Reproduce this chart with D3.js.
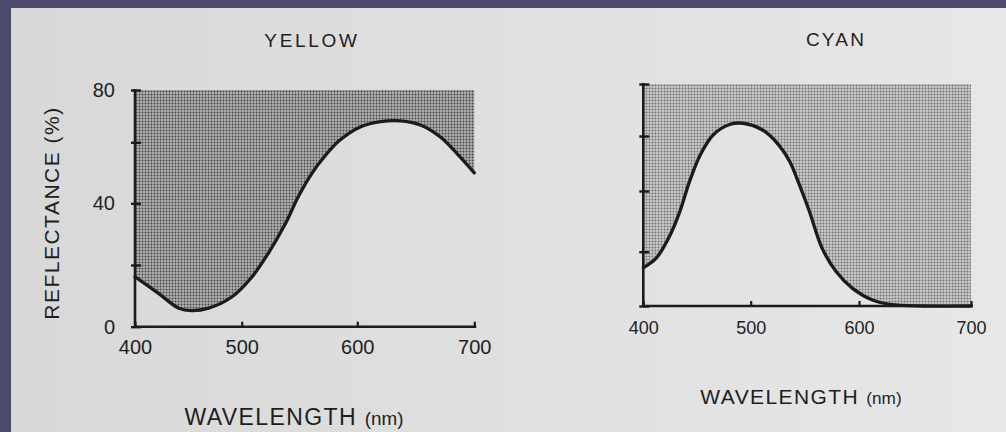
<!DOCTYPE html>
<html><head><meta charset="utf-8">
<script src="https://cdn.jsdelivr.net/npm/d3@7/dist/d3.min.js"></script>
<style>html,body{margin:0;padding:0;background:#4b4a6c;overflow:hidden;}svg{display:block;}</style>
</head><body>
<script>
// ---- data ----
const xTicks = [400, 500, 600, 700];
const yTicks = [0, 20, 40, 60, 80];
const yLabelled = [0, 40, 80];

const yellowWl  = [400, 422, 441, 453, 469, 491, 509, 523, 538, 549, 561, 572, 584, 602, 620, 637, 654, 671, 685, 700];
const yellowRef = [16.2, 10.8, 6.0, 5.2, 6.0, 9.7, 16.2, 23.8, 33.5, 42.2, 50.0, 55.5, 60.5, 65.8, 67.9, 68.2, 66.6, 62.0, 56.4, 50.0];

const cyanWl  = [400, 412, 425, 434, 443, 453, 465, 481, 493, 511, 526, 536, 545, 554, 566, 579, 594, 612, 628, 657, 700];
const cyanRef = [14.1, 17.6, 25.5, 33.2, 43.4, 53.1, 60.4, 64.5, 64.9, 62.3, 56.7, 50.7, 42.2, 33.5, 21.1, 12.6, 6.5, 2.2, 0.6, 0.0, 0.0];

const W = 1006, H = 432;
const svg = d3.select("body").append("svg").attr("width", W).attr("height", H);
const defs = svg.append("defs");

const grad = defs.append("linearGradient").attr("id", "paper").attr("x1", 0).attr("x2", 1).attr("y1", 0).attr("y2", 0);
grad.append("stop").attr("offset", 0).attr("stop-color", "#d8d8d8");
grad.append("stop").attr("offset", 1).attr("stop-color", "#e7e7e7");

function makePattern(id, bg, dot) {
  const p = defs.append("pattern").attr("id", id).attr("patternUnits", "userSpaceOnUse")
    .attr("width", 3).attr("height", 3);
  p.append("rect").attr("width", 3).attr("height", 3).attr("fill", bg);
  p.append("circle").attr("cx", 1.5).attr("cy", 1.5).attr("r", 0.95).attr("fill", dot);
}
makePattern("stipL", "#afafaf", "#454545");
makePattern("stipR", "#c9c9c9", "#707070");

// background: border + paper
svg.append("rect").attr("width", W).attr("height", H).attr("fill", "#4b4a6c");
svg.append("rect").attr("x", 11).attr("y", 8).attr("width", W - 11).attr("height", H - 8).attr("fill", "url(#paper)");

const FONT = "'Liberation Sans', Arial, Helvetica, sans-serif";
const CURVE = d3.curveCatmullRom.alpha(0.5);

function panel(cfg) {
  const x = d3.scaleLinear().domain(xTicks).range(cfg.xr);
  const y = d3.scaleLinear().domain(yTicks).range(cfg.yr);
  const g = svg.append("g");
  const data = cfg.wl.map((w, i) => ({w, v: cfg.ref[i]}));

  const area = d3.area().x(d => x(d.w)).y0(y(80)).y1(d => y(d.v)).curve(CURVE);
  g.append("path").datum(data).attr("d", area).attr("fill", `url(#${cfg.pat})`);

  const line = d3.line().x(d => x(d.w)).y(d => y(d.v)).curve(CURVE);
  g.append("path").datum(data).attr("d", line).attr("fill", "none")
    .attr("stroke", "#1b1b1b").attr("stroke-width", 3.3).attr("stroke-linecap", "round");

  // x axis
  const xa = g.append("g").attr("transform", `translate(0,${y(0)})`)
    .call(d3.axisBottom(x).tickValues(xTicks).tickSizeInner(-5).tickSizeOuter(0).tickPadding(cfg.xpad).tickFormat(d3.format("d")));
  xa.select(".domain").attr("stroke", "#1b1b1b").attr("stroke-width", 2.6)
    .attr("d", `M${x(400) - 1},0H${x(700) + 2}`);
  xa.selectAll(".tick line").attr("stroke", "#1b1b1b").attr("stroke-width", 2.2);
  xa.selectAll(".tick text").attr("font-family", FONT).attr("font-size", cfg.fs).attr("fill", "#222");

  // y axis
  const ya = g.append("g").attr("transform", `translate(${x(400)},0)`)
    .call(d3.axisLeft(y).tickValues(yTicks).tickSize(0).tickPadding(cfg.ypad)
      .tickFormat(d => cfg.ylabels && yLabelled.includes(d) ? d : ""));
  ya.select(".domain").attr("stroke", "#1b1b1b").attr("stroke-width", 2.6)
    .attr("d", `M0,${y(80) - 1}V${y(0) + 1}`);
  ya.selectAll(".tick line").attr("x1", -4).attr("x2", 6).attr("stroke", "#1b1b1b").attr("stroke-width", 2.4);
  ya.selectAll(".tick text").attr("font-family", FONT).attr("font-size", cfg.fs).attr("fill", "#222");

  // title
  g.append("text").attr("x", cfg.titleX).attr("y", cfg.titleY).attr("text-anchor", "middle")
    .attr("font-family", FONT).attr("font-size", cfg.titleFs).attr("letter-spacing", cfg.titleLs)
    .attr("fill", "#1e1e1e").text(cfg.title);

  // x label
  const xl = g.append("text").attr("x", cfg.xlX).attr("y", cfg.xlY).attr("text-anchor", "middle")
    .attr("font-family", FONT).attr("fill", "#1e1e1e");
  xl.append("tspan").attr("font-size", cfg.xlFs).attr("letter-spacing", cfg.xlLs).text("WAVELENGTH ");
  xl.append("tspan").attr("font-size", cfg.xlFs * 0.82).text("(nm)");

  if (cfg.ylabel) {
    g.append("text").attr("transform", `translate(${cfg.ylX},${cfg.ylY}) rotate(-90)`)
      .attr("text-anchor", "middle").attr("font-family", FONT).attr("font-size", cfg.ylFs)
      .attr("letter-spacing", 1.5).attr("fill", "#1e1e1e").text("REFLECTANCE (%)");
  }
}

panel({
  wl: yellowWl, ref: yellowRef, pat: "stipL",
  xr: [135, 241.7, 357.3, 474.3], yr: [326.7, 265, 203.3, 142.3, 90],
  xpad: 13, ypad: 20, fs: 20, ylabels: true,
  title: "YELLOW", titleX: 312, titleY: 47, titleFs: 19, titleLs: 2.7,
  xlX: 294, xlY: 425, xlFs: 23, xlLs: 1.4,
  ylabel: true, ylX: 59, ylY: 213, ylFs: 21
});

panel({
  wl: cyanWl, ref: cyanRef, pat: "stipR",
  xr: [643.3, 750.7, 859, 971], yr: [306, 251.7, 191, 136, 84],
  xpad: 15, ypad: 20, fs: 18, ylabels: false,
  title: "CYAN", titleX: 836, titleY: 46, titleFs: 19, titleLs: 2.2,
  xlX: 801, xlY: 404, xlFs: 21, xlLs: 1.4,
  ylabel: false
});
</script>
</body></html>
